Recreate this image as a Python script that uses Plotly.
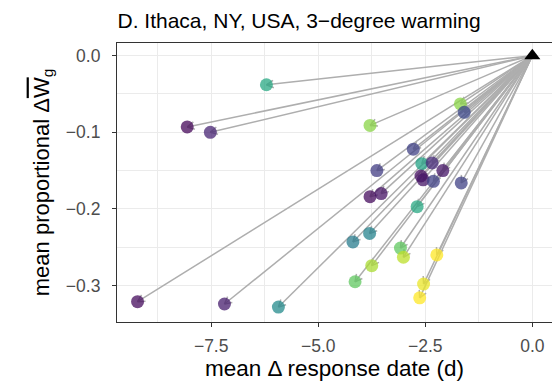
import plotly.graph_objects as go
import plotly.colors as pc
import math

# ---- data ----
delta_date = [-6.21, -8.06, -7.52, -3.79, -1.68, -1.59, -2.78, -2.58, -2.34, -3.63,
              -2.09, -2.60, -2.55, -2.31, -1.66, -3.79, -3.53, -2.69, -3.80, -4.19,
              -3.08, -3.01, -2.23, -3.75, -4.14, -2.54, -2.63, -9.22, -7.19, -5.93]
delta_w = [-0.038, -0.093, -0.100, -0.091, -0.063, -0.074, -0.122, -0.141, -0.140, -0.150,
           -0.150, -0.157, -0.162, -0.164, -0.166, -0.184, -0.180, -0.197, -0.232, -0.243,
           -0.251, -0.263, -0.260, -0.274, -0.295, -0.298, -0.316, -0.321, -0.324, -0.328]
color_val = [0.60, 0.02, 0.10, 0.82, 0.82, 0.22, 0.20, 0.58, 0.12, 0.18,
             0.06, 0.04, 0.06, 0.20, 0.20, 0.03, 0.05, 0.60, 0.45, 0.42,
             0.75, 0.90, 1.00, 0.87, 0.75, 0.97, 1.00, 0.03, 0.08, 0.48]
origin = (0.0, 0.0)

x_ticks = [-7.5, -5.0, -2.5, 0.0]
x_ticktext = ["\u22127.5", "\u22125.0", "\u22122.5", "0.0"]
y_ticks = [-0.3, -0.2, -0.1, 0.0]
y_ticktext = ["\u22120.3", "\u22120.2", "\u22120.1", "0.0"]

x_range = [-9.70, 0.46]
y_range = [-0.3475, 0.0165]
W, H = 552, 382
ML, MR, MT, MB = 117, 0, 43, 60

colors = pc.sample_colorscale("Viridis", color_val)

# pixel scale for arrowheads
sx = (W - ML - MR) / (x_range[1] - x_range[0])
sy = (H - MT - MB) / (y_range[1] - y_range[0])

lx, ly, hx, hy = [], [], [], []
L = 8.0
ang = math.radians(28)
for x, y in zip(delta_date, delta_w):
    lx += [origin[0], x, None]
    ly += [origin[1], y, None]
    px, py = (x - origin[0]) * sx, (y - origin[1]) * sy
    n = math.hypot(px, py)
    ux, uy = px / n, py / n
    for s in (1, -1):
        rx = ux * math.cos(s * ang) - uy * math.sin(s * ang)
        ry = ux * math.sin(s * ang) + uy * math.cos(s * ang)
        hx += [x - L * rx / sx, x, None]
        hy += [y - L * ry / sy, y, None]

fig = go.Figure()
fig.add_trace(go.Scatter(x=lx, y=ly, mode="lines",
                         line=dict(color="#aeaeae", width=1.5), hoverinfo="skip"))
fig.add_trace(go.Scatter(x=hx, y=hy, mode="lines",
                         line=dict(color="#aeaeae", width=1.5), hoverinfo="skip"))
fig.add_trace(go.Scatter(x=delta_date, y=delta_w, mode="markers",
                         marker=dict(size=13, color=colors, opacity=0.75, line=dict(width=0))))
fig.add_trace(go.Scatter(x=[origin[0]], y=[origin[1]], mode="markers",
                         marker=dict(symbol="triangle-up", size=14, color="black")))

axis_common = dict(
    showline=True, linecolor="#333333", linewidth=1.2, mirror=True,
    ticks="outside", ticklen=4, tickwidth=1.2, tickcolor="#333333",
    showgrid=True, gridcolor="#ebebeb", gridwidth=1.4,
    zeroline=False, tickfont=dict(size=17.5, color="#4d4d4d"),
    automargin=False,
)

fig.update_layout(
    width=W, height=H,
    margin=dict(l=ML, r=MR, t=MT, b=MB),
    plot_bgcolor="white", paper_bgcolor="white",
    showlegend=False,
    font=dict(family="Liberation Sans, Arial, sans-serif", color="black"),
    title=dict(text="D. Ithaca, NY, USA, 3\u2212degree warming",
               x=117.5 / W, xref="container", xanchor="left",
               y=1 - 21 / H, yref="container", yanchor="middle",
               font=dict(size=21, color="black")),
    xaxis=dict(range=x_range, tickvals=x_ticks, ticktext=x_ticktext,
               ticklabelstandoff=4,
               minor=dict(tickvals=[-8.75, -6.25, -3.75, -1.25], showgrid=True,
                          gridcolor="#ebebeb", gridwidth=0.8, ticks=""),
               title=dict(text="mean \u0394 response date (d)", font=dict(size=22.5), standoff=0),
               **axis_common),
    yaxis=dict(range=y_range, tickvals=y_ticks, ticktext=y_ticktext,
               ticklabelstandoff=8,
               minor=dict(tickvals=[-0.35, -0.25, -0.15, -0.05], showgrid=True,
                          gridcolor="#ebebeb", gridwidth=0.8, ticks=""),
               title=dict(text="mean proportional \u0394<span style='text-decoration:overline'>W</span><sub>g</sub>",
                          font=dict(size=22), standoff=10),
               **axis_common),
)

fig.write_html("out.html")
